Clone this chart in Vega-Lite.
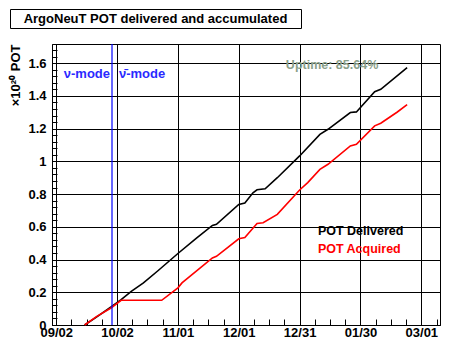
{
  "$schema": "https://vega.github.io/schema/vega-lite/v6.json",
  "padding": {"left": 9, "top": 8, "right": 5, "bottom": 5},
  "spacing": 16,
  "bounds": "flush",
  "config": {
    "font": "Liberation Sans",
    "view": {"stroke": "black", "strokeWidth": 1},
    "axis": {
      "labelFont": "Liberation Sans", "labelFontSize": 13, "labelFontWeight": "bold", "labelColor": "black",
      "domainColor": "black", "tickColor": "black", "gridColor": "black",
      "titleFont": "Liberation Sans", "titleColor": "black", "titleFontSize": 13, "titleFontWeight": "bold"
    },
    "text": {"font": "Liberation Sans", "fontWeight": "bold"}
  },
  "vconcat": [
    {
      "width": 291,
      "height": 19,
      "view": {"stroke": "black", "strokeWidth": 1, "fill": "white"},
      "data": {"values": [{"title": "ArgoNeuT POT delivered and accumulated"}]},
      "mark": {"type": "text", "fontSize": 13, "fontWeight": "bold", "color": "black", "align": "center", "baseline": "middle"},
      "encoding": {"text": {"field": "title"}}
    },
    {
      "spacing": 14,
      "bounds": "flush",
      "hconcat": [
        {
          "width": 28,
          "height": 281,
          "view": {"stroke": null},
          "data": {"values": []},
          "mark": "point"
        },
        {
          "width": 388,
          "height": 281,
          "view": {"stroke": "black", "strokeWidth": 1},
          "layer": [
            {
              "data": {"values": [
                {"series": "POT Delivered", "date": "2009-09-16", "value": 0},
                {"series": "POT Delivered", "date": "2009-09-22", "value": 0.05},
                {"series": "POT Delivered", "date": "2009-09-29", "value": 0.11},
                {"series": "POT Delivered", "date": "2009-10-04", "value": 0.155},
                {"series": "POT Delivered", "date": "2009-10-09", "value": 0.206},
                {"series": "POT Delivered", "date": "2009-10-15", "value": 0.257},
                {"series": "POT Delivered", "date": "2009-10-22", "value": 0.33},
                {"series": "POT Delivered", "date": "2009-11-01", "value": 0.437},
                {"series": "POT Delivered", "date": "2009-11-10", "value": 0.53},
                {"series": "POT Delivered", "date": "2009-11-18", "value": 0.608},
                {"series": "POT Delivered", "date": "2009-11-20", "value": 0.615},
                {"series": "POT Delivered", "date": "2009-12-01", "value": 0.737},
                {"series": "POT Delivered", "date": "2009-12-04", "value": 0.745},
                {"series": "POT Delivered", "date": "2009-12-08", "value": 0.808},
                {"series": "POT Delivered", "date": "2009-12-10", "value": 0.826},
                {"series": "POT Delivered", "date": "2009-12-14", "value": 0.832},
                {"series": "POT Delivered", "date": "2009-12-20", "value": 0.9},
                {"series": "POT Delivered", "date": "2009-12-31", "value": 1.033},
                {"series": "POT Delivered", "date": "2010-01-10", "value": 1.165},
                {"series": "POT Delivered", "date": "2010-01-14", "value": 1.196},
                {"series": "POT Delivered", "date": "2010-01-25", "value": 1.298},
                {"series": "POT Delivered", "date": "2010-01-28", "value": 1.302},
                {"series": "POT Delivered", "date": "2010-02-06", "value": 1.425},
                {"series": "POT Delivered", "date": "2010-02-09", "value": 1.44},
                {"series": "POT Delivered", "date": "2010-02-22", "value": 1.572},
                {"series": "POT Acquired", "date": "2009-09-16", "value": 0},
                {"series": "POT Acquired", "date": "2009-09-22", "value": 0.053},
                {"series": "POT Acquired", "date": "2009-09-29", "value": 0.104},
                {"series": "POT Acquired", "date": "2009-10-04", "value": 0.151},
                {"series": "POT Acquired", "date": "2009-10-24", "value": 0.151},
                {"series": "POT Acquired", "date": "2009-11-01", "value": 0.227},
                {"series": "POT Acquired", "date": "2009-11-03", "value": 0.257},
                {"series": "POT Acquired", "date": "2009-11-18", "value": 0.41},
                {"series": "POT Acquired", "date": "2009-11-20", "value": 0.42},
                {"series": "POT Acquired", "date": "2009-12-01", "value": 0.527},
                {"series": "POT Acquired", "date": "2009-12-04", "value": 0.535},
                {"series": "POT Acquired", "date": "2009-12-10", "value": 0.62},
                {"series": "POT Acquired", "date": "2009-12-13", "value": 0.625},
                {"series": "POT Acquired", "date": "2009-12-20", "value": 0.676},
                {"series": "POT Acquired", "date": "2009-12-31", "value": 0.825},
                {"series": "POT Acquired", "date": "2010-01-04", "value": 0.87},
                {"series": "POT Acquired", "date": "2010-01-10", "value": 0.951},
                {"series": "POT Acquired", "date": "2010-01-14", "value": 0.982},
                {"series": "POT Acquired", "date": "2010-01-25", "value": 1.094},
                {"series": "POT Acquired", "date": "2010-01-28", "value": 1.104},
                {"series": "POT Acquired", "date": "2010-02-06", "value": 1.217},
                {"series": "POT Acquired", "date": "2010-02-09", "value": 1.233},
                {"series": "POT Acquired", "date": "2010-02-17", "value": 1.3},
                {"series": "POT Acquired", "date": "2010-02-22", "value": 1.346}
              ]},
              "mark": {"type": "line", "strokeWidth": 1.6},
              "encoding": {
                "x": {
                  "field": "date", "type": "temporal",
                  "scale": {"type": "utc", "domain": [{"year": 2009, "month": 8, "date": 30, "hours": 22, "utc": true}, {"year": 2010, "month": 3, "date": 10, "hours": 5, "utc": true}]},
                  "axis": {
                    "title": null,
                    "tickCount": 200,
                    "values": [
                      {"year": 2009, "month": 9, "date": 2, "utc": true},
                      {"year": 2009, "month": 9, "date": 9, "hours": 12, "utc": true},
                      {"year": 2009, "month": 9, "date": 17, "utc": true},
                      {"year": 2009, "month": 9, "date": 24, "hours": 12, "utc": true},
                      {"year": 2009, "month": 10, "date": 2, "utc": true},
                      {"year": 2009, "month": 10, "date": 9, "hours": 12, "utc": true},
                      {"year": 2009, "month": 10, "date": 17, "utc": true},
                      {"year": 2009, "month": 10, "date": 24, "hours": 12, "utc": true},
                      {"year": 2009, "month": 11, "date": 1, "utc": true},
                      {"year": 2009, "month": 11, "date": 8, "hours": 12, "utc": true},
                      {"year": 2009, "month": 11, "date": 16, "utc": true},
                      {"year": 2009, "month": 11, "date": 23, "hours": 12, "utc": true},
                      {"year": 2009, "month": 12, "date": 1, "utc": true},
                      {"year": 2009, "month": 12, "date": 8, "hours": 12, "utc": true},
                      {"year": 2009, "month": 12, "date": 16, "utc": true},
                      {"year": 2009, "month": 12, "date": 23, "hours": 12, "utc": true},
                      {"year": 2009, "month": 12, "date": 31, "utc": true},
                      {"year": 2010, "month": 1, "date": 7, "hours": 12, "utc": true},
                      {"year": 2010, "month": 1, "date": 15, "utc": true},
                      {"year": 2010, "month": 1, "date": 22, "hours": 12, "utc": true},
                      {"year": 2010, "month": 1, "date": 30, "utc": true},
                      {"year": 2010, "month": 2, "date": 6, "hours": 12, "utc": true},
                      {"year": 2010, "month": 2, "date": 14, "utc": true},
                      {"year": 2010, "month": 2, "date": 21, "hours": 12, "utc": true},
                      {"year": 2010, "month": 3, "date": 1, "utc": true},
                      {"year": 2010, "month": 3, "date": 8, "hours": 12, "utc": true}
                    ],
                    "labelExpr": "abs((datum.value - utc(2009,8,2))/2592000000 - round((datum.value - utc(2009,8,2))/2592000000)) < 0.001 ? utcFormat(datum.value, '%m/%d') : ''",
                    "labelOverlap": false,
                    "labelFlush": false,
                    "tickSize": -6,
                    "labelPadding": 7,
                    "grid": true,
                    "gridOpacity": {"condition": {"test": "abs((datum.value - utc(2009,8,2))/2592000000 - round((datum.value - utc(2009,8,2))/2592000000)) < 0.001", "value": 1}, "value": 0}
                  }
                },
                "y": {
                  "field": "value", "type": "quantitative",
                  "scale": {"domain": [0, 1.717], "nice": false, "zero": true},
                  "axis": {
                    "title": "×10²⁰ POT",
                    "titleAnchor": "end",
                    "titlePadding": 5,
                    "tickCount": 200,
                    "values": [0, 0.04, 0.08, 0.12, 0.16, 0.2, 0.24, 0.28, 0.32, 0.36, 0.4, 0.44, 0.48, 0.52, 0.56, 0.6, 0.64, 0.68, 0.72, 0.76, 0.8, 0.84, 0.88, 0.92, 0.96, 1, 1.04, 1.08, 1.12, 1.16, 1.2, 1.24, 1.28, 1.32, 1.36, 1.4, 1.44, 1.48, 1.52, 1.56, 1.6, 1.64, 1.68],
                    "labelExpr": "indexof([0, 0.2, 0.4, 0.6, 0.8, 1, 1.2, 1.4, 1.6], datum.value) >= 0 ? format(datum.value, '') : ''",
                    "labelOverlap": false,
                    "labelFlush": false,
                    "tickSize": -5,
                    "labelPadding": 11,
                    "grid": true,
                    "gridOpacity": {"condition": {"test": "indexof([0, 0.2, 0.4, 0.6, 0.8, 1, 1.2, 1.4, 1.6], datum.value) >= 0", "value": 1}, "value": 0}
                  }
                },
                "color": {
                  "field": "series", "type": "nominal",
                  "scale": {"domain": ["POT Delivered", "POT Acquired"], "range": ["black", "#ff0000"]},
                  "legend": null
                }
              }
            },
            {
              "data": {"values": [{"date": "2009-09-29T12:00:00Z"}]},
              "mark": {"type": "rule", "color": "#0000ff", "strokeWidth": 1.2},
              "encoding": {"x": {"field": "date", "type": "temporal"}}
            },
            {
              "data": {"values": [{"date": "2009-09-29T12:00:00Z", "value": 1.533, "label": "ν-mode"}]},
              "mark": {"type": "text", "align": "right", "baseline": "middle", "dx": -2, "fontSize": 13, "color": "#2a2aff"},
              "encoding": {
                "x": {"field": "date", "type": "temporal"},
                "y": {"field": "value", "type": "quantitative"},
                "text": {"field": "label"}
              }
            },
            {
              "data": {"values": [{"date": "2009-09-29T12:00:00Z", "value": 1.533, "label": "ν̄-mode"}]},
              "mark": {"type": "text", "align": "left", "baseline": "middle", "dx": 7, "fontSize": 13, "color": "#2a2aff"},
              "encoding": {
                "x": {"field": "date", "type": "temporal"},
                "y": {"field": "value", "type": "quantitative"},
                "text": {"field": "label"}
              }
            },
            {
              "data": {"values": [{"date": "2010-01-16", "value": 1.588, "label": "Uptime: 85.64%"}]},
              "mark": {"type": "text", "align": "center", "baseline": "middle", "fontSize": 12.5, "color": "#8aa08a"},
              "encoding": {
                "x": {"field": "date", "type": "temporal"},
                "y": {"field": "value", "type": "quantitative"},
                "text": {"field": "label"}
              }
            },
            {
              "data": {"values": [
                {"date": "2010-01-09", "value": 0.574, "label": "POT Delivered", "series": "POT Delivered"},
                {"date": "2010-01-09", "value": 0.467, "label": "POT Acquired", "series": "POT Acquired"}
              ]},
              "mark": {"type": "text", "align": "left", "baseline": "middle", "fontSize": 12.5},
              "encoding": {
                "x": {"field": "date", "type": "temporal"},
                "y": {"field": "value", "type": "quantitative"},
                "text": {"field": "label"},
                "color": {"field": "series", "type": "nominal"}
              }
            }
          ]
        }
      ]
    }
  ]
}
